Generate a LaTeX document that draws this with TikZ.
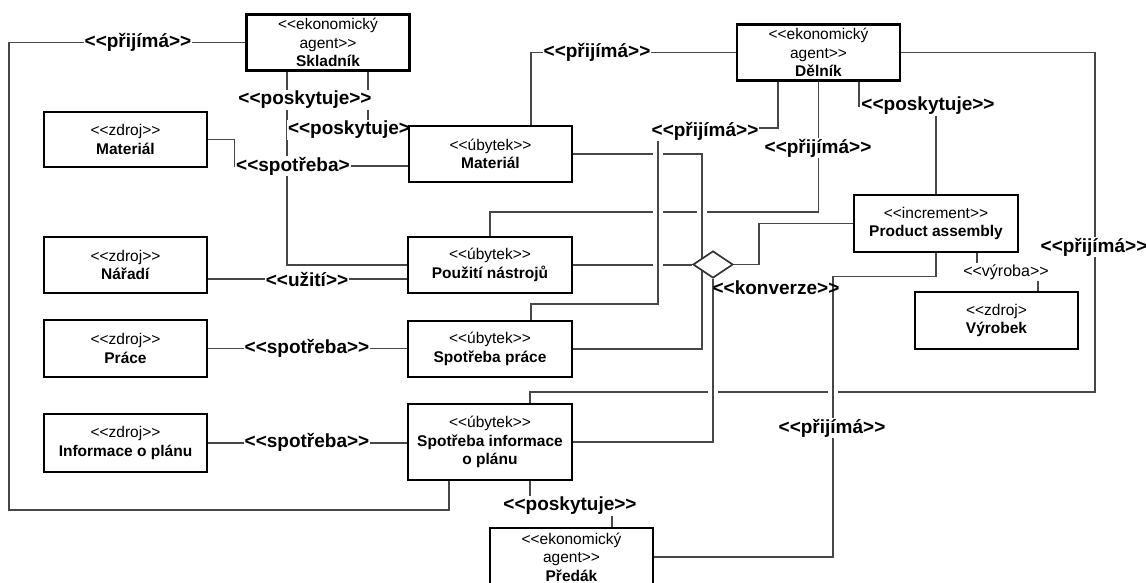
\documentclass[tikz,border=0pt]{standalone}
\usepackage{fontspec}
\setmainfont{Liberation Sans}[Ligatures=TeXOff]
\usetikzlibrary{shapes.geometric}
\newcommand\bname[1]{\textbf{#1}}

\begin{document}
\begin{tikzpicture}[x=1pt,y=-1pt,
  box/.style={draw=black, line width=2.8pt, fill=white, align=center, inner sep=0pt,
    minimum width=163pt, minimum height=56pt, font=\fontsize{15.5}{18.5}\selectfont},
  conn/.style={draw=black!72, line width=1.6pt},
  hop/.style={preaction={draw=white, line width=10pt}},
  lbl/.style={fill=white, inner sep=1pt, font=\bfseries\fontsize{19}{22}\selectfont},
  slbl/.style={fill=white, inner sep=1pt, font=\fontsize{16}{19}\selectfont},
  gate/.style={diamond, draw=black!80, line width=1.7pt, fill=white, inner sep=0pt,
    minimum width=40pt, minimum height=27pt},
]
\useasboundingbox (0,0) rectangle (1146,583);

% boxes are placed first as empty shapes so connectors can use their anchors;
% the visible boxes are drawn on top at the end
\begin{scope}[every node/.style={box, draw=none, fill=none}]
  \node (skl)   at (328,42.5)    {};
  \node (del)   at (818.5,52.5)  {};
  \node (zMat)  at (125.5,139.5) [minimum height=55pt] {};
  \node (uMat)  at (490.5,154)   {};
  \node (zNar)  at (125.5,265)   {};
  \node (uPouz) at (490,265)     [minimum width=164pt] {};
  \node (zPrace) at (125.5,348.5) [minimum height=57pt] {};
  \node (uPrace) at (490,349)    [minimum width=164pt] {};
  \node (zInfo) at (125.5,443)   [minimum height=58pt] {};
  \node (uInfo) at (490,442)     [minimum width=164pt, minimum height=76pt] {};
  \node (pred)  at (571.5,557)   [minimum height=58pt] {};
  \node (prod)  at (936,223.5)   [minimum width=164pt, minimum height=57pt] {};
  \node (vyr)   at (996.5,320.5) [minimum height=57pt] {};
  \node (dia)   at (713,264.5)   [gate, draw=none, fill=none] {};
\end{scope}

% ---------- connectors without crossings ----------
% Skladnik -> Spotreba informace (prijima)
\draw[conn] (skl.west) -- (9,42.5) -- (9,510) -| ([xshift=-41pt]uInfo.south);
% Skladnik -> Pouziti nastroju (poskytuje)
\draw[conn] ([xshift=-41pt]skl.south) |- (uPouz.west);
% Skladnik -> Material (poskytuje)
\draw[conn] ([xshift=40pt]skl.south) |- ([yshift=24pt]uMat.west);
% zdroj Material -> ubytek Material (spotreba)
\draw[conn] (zMat.east) -- ++(26,0) |- ([yshift=-12pt]uMat.west);
% Naradi -> Pouziti nastroju (uziti)
\draw[conn] ([yshift=-14pt]zNar.east) -- ([yshift=-14pt]uPouz.west);
% Prace -> Spotreba prace
\draw[conn] (zPrace.east) -- (zPrace.east -| uPrace.west);
% Informace o planu -> Spotreba informace
\draw[conn] (zInfo.east) -- (zInfo.east -| uInfo.west);
% Delnik -> ubytek Material (prijima)
\draw[conn] (del.west) -| ([xshift=40.5pt]uMat.north);
% Delnik -> Pouziti nastroju (prijima)
\draw[conn] (del.south) -- ++(0,130) -| (uPouz.north);
% Delnik -> Product assembly (poskytuje)
\draw[conn] ([xshift=40.5pt]del.south) |- (936,106) -- (prod.north);
% Delnik -> Spotreba informace (prijima)
\draw[conn] (del.east) -- (1095,52.5) -- (1095,392) -| ([xshift=40pt]uInfo.north);
% Pouziti nastroju -> konverze
\draw[conn] (uPouz.east) -- (uPouz.east -| dia.west);
% konverze -> Product assembly
\draw[conn] (dia.east) -- (759,264.5) |- (prod.west);
% Product assembly -> Vyrobek (vyroba)
\draw[conn] ([xshift=41pt]prod.south) |- (1038,272) -- ([xshift=41.5pt]vyr.north);
% Spotreba informace -> Predak (poskytuje)
\draw[conn] ([xshift=40pt]uInfo.south) -- ++(0,26) -| ([xshift=40.5pt]pred.north);
% Spotreba prace -> konverze
\draw[conn] (uPrace.east) -| ([xshift=-11pt]dia.center);

% ---------- connectors that hop over others ----------
% ubytek Material -> konverze
\draw[conn, hop] (uMat.east) -| ([xshift=-11pt]dia.center);
% Delnik -> Spotreba prace (prijima)
\draw[conn, hop] ([xshift=-40.5pt]del.south) |- (658,128) -- (658,304) -| ([xshift=41pt]uPrace.north);
% Spotreba informace -> konverze
\draw[conn, hop] (uInfo.east) -| (dia.south);
% Product assembly -> Predak (prijima)
\draw[conn, hop] (prod.south) -- ++(0,23) -| (833,557) -- (pred.east);

% ---------- conversion diamond ----------
\node[gate] at (dia.center) {};

% ---------- connector labels ----------
\node[lbl] (l1)  at (138,42.5)  {<<přijímá>>};
\node[lbl] (l2)  at (305,100)   {<<poskytuje>>};
\node[lbl] (l3)  at (349,130)   {<<poskytuje>};
\node[lbl] (l4)  at (293,166)   {<<spotřeba>};
\node[lbl] (l5)  at (307,279)   {<<užití>>};
\node[lbl] (l6)  at (307,348.5) {<<spotřeba>>};
\node[lbl] (l7)  at (307,442.5) {<<spotřeba>>};
\node[lbl] (l8)  at (597,52.5)  {<<přijímá>>};
\node[lbl] (l9)  at (705,131)   {<<přijímá>>};
\node[lbl] (l10) at (818,148)   {<<přijímá>>};
\node[lbl] (l11) at (928,106)   {<<poskytuje>>};
\node[lbl, fill=none] (l12) at (776,288) {<<konverze>>};
\node[slbl] (l13) at (1006,272) {<<výroba>>};
\node[lbl] (l14) at (1094,247)  {<<přijímá>>};
\node[lbl] (l15) at (832,428)   {<<přijímá>>};
\node[lbl] (l16) at (570,506)   {<<poskytuje>>};

% ---------- element boxes ----------
\node[box] at (skl.center)   {<<ekonomický\\agent>>\\\bname{Skladník}};
\node[box] at (del.center)   {<<ekonomický\\agent>>\\\bname{Dělník}};
\node[box, minimum height=55pt] at (zMat.center) {<<zdroj>>\\\bname{Materiál}};
\node[box] at (uMat.center)  {<<úbytek>>\\\bname{Materiál}};
\node[box] at (zNar.center)  {<<zdroj>>\\\bname{Nářadí}};
\node[box, minimum width=164pt] at (uPouz.center) {<<úbytek>>\\\bname{Použití nástrojů}};
\node[box, minimum height=57pt] at (zPrace.center) {<<zdroj>>\\\bname{Práce}};
\node[box, minimum width=164pt] at (uPrace.center) {<<úbytek>>\\\bname{Spotřeba práce}};
\node[box, minimum height=58pt] at (zInfo.center) {<<zdroj>>\\\bname{Informace o plánu}};
\node[box, minimum width=164pt, minimum height=76pt] at (uInfo.center)
  {<<úbytek>>\\\bname{Spotřeba informace}\\\bname{o plánu}};
\node[box, minimum height=58pt] at (pred.center) {<<ekonomický\\agent>>\\\bname{Předák}};
\node[box, minimum width=164pt, minimum height=57pt] at (prod.center)
  {<<increment>>\\\bname{Product assembly}};
\node[box, minimum height=57pt] at (vyr.center) {<<zdroj>\\\bname{Výrobek}};
\end{tikzpicture}
\end{document}
